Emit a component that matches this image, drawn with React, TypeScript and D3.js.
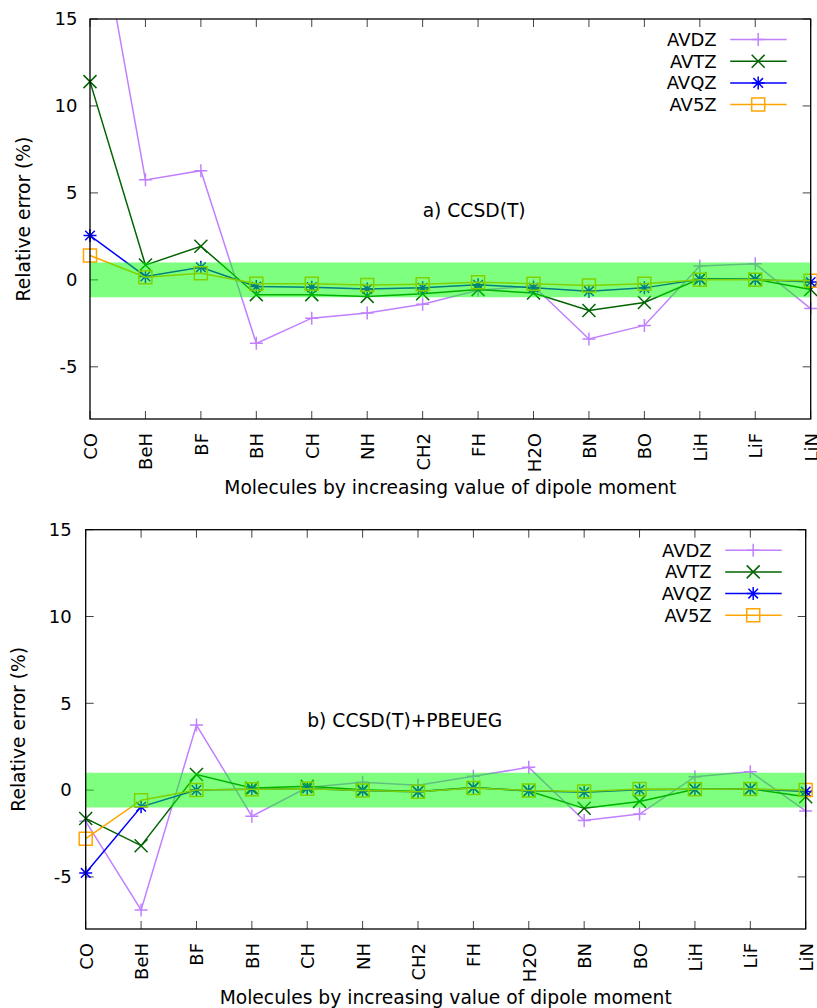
import React from "react";
import * as d3 from "d3";

const molecules = ["CO", "BeH", "BF", "BH", "CH", "NH", "CH2", "FH", "H2O", "BN", "BO", "LiH", "LiF", "LiN"];
const seriesNames = ["AVDZ", "AVTZ", "AVQZ", "AV5Z"];
const yTicks = [-5, 0, 5, 10, 15];

// Panel a) CCSD(T)
const ccsdAVDZ = [23.5, 5.75, 6.28, -3.65, -2.2, -1.9, -1.4, -0.6, -0.35, -3.4, -2.62, 0.8, 0.92, -1.65];
const ccsdAVTZ = [11.4, 0.85, 1.93, -0.85, -0.85, -0.95, -0.8, -0.56, -0.75, -1.76, -1.3, 0.06, 0.03, -0.55];
const ccsdAVQZ = [2.55, 0.2, 0.72, -0.38, -0.42, -0.52, -0.46, -0.28, -0.45, -0.65, -0.46, 0.03, 0.03, -0.12];
const ccsdAV5Z = [1.4, 0.15, 0.38, -0.22, -0.23, -0.29, -0.25, -0.14, -0.22, -0.32, -0.22, 0.0, 0.0, -0.05];

// Panel b) CCSD(T)+PBEUEG
const pbeAVDZ = [-1.8, -6.9, 3.75, -1.5, 0.15, 0.45, 0.28, 0.8, 1.31, -1.75, -1.38, 0.77, 1.06, -1.2];
const pbeAVTZ = [-1.63, -3.2, 0.9, 0.12, 0.22, 0.02, -0.08, 0.15, -0.05, -1.05, -0.65, 0.05, 0.08, -0.38];
const pbeAVQZ = [-4.77, -0.96, 0.0, 0.05, 0.1, -0.04, -0.1, 0.14, -0.04, -0.12, 0.02, 0.05, 0.06, -0.08];
const pbeAV5Z = [-2.8, -0.58, 0.0, 0.05, 0.08, -0.02, -0.1, 0.12, -0.02, -0.08, 0.06, 0.05, 0.06, 0.0];

const colors = ["#c080ff", "#006400", "#0000ff", "#ffa500"];
const markers = ["plus", "cross", "star", "square"];

const FONT = "'DejaVu Sans', sans-serif";
const FS = 18;
const FS_LABEL = 18.7;

function Marker({ kind, x, y, color }: { kind: string; x: number; y: number; color: string }) {
  const s = 6.5;
  let d = "";
  if (kind === "plus") d = `M${-s},0H${s}M0,${-s}V${s}`;
  else if (kind === "cross") d = `M${-s},${-s}L${s},${s}M${-s},${s}L${s},${-s}`;
  else if (kind === "star") d = `M${-s},0H${s}M0,${-s}V${s}M-4.8,-4.8L4.8,4.8M-4.8,4.8L4.8,-4.8`;
  else d = `M-6.5,-6.5H6.5V6.5H-6.5Z`;
  return <path d={d} transform={`translate(${x},${y})`} fill="none" stroke={color} strokeWidth={1.5} />;
}

function Panel({ id, left, right, top, bottom, data, label, yLabelX, tickGap }: any) {
  const x = d3.scaleLinear().domain([0, molecules.length - 1]).range([left, right]);
  const y = d3.scaleLinear().domain([-8, 15]).range([bottom, top]);
  const line = d3.line<number>().x((_, i) => x(i)).y((v) => y(v));
  const clipId = `clip-${id}`;
  return (
    <g>
      <defs>
        <clipPath id={clipId}>
          <rect x={left - 12} y={top} width={right - left + 24} height={bottom - top} />
        </clipPath>
      </defs>
      {molecules.map((m, i) => (
        <g key={m}>
          <line x1={x(i)} x2={x(i)} y1={bottom} y2={bottom - 8} stroke="#444" strokeWidth={1} />
          <line x1={x(i)} x2={x(i)} y1={top} y2={top + 8} stroke="#444" strokeWidth={1} />
          <text
            transform={`translate(${x(i) + 7},${bottom + 14}) rotate(-90)`}
            textAnchor="end"
            fontFamily={FONT}
            fontSize={FS}
            fill="#000"
          >
            {m}
          </text>
        </g>
      ))}
      {yTicks.map((t) => (
        <g key={t}>
          <line x1={left} x2={left + 8} y1={y(t)} y2={y(t)} stroke="#444" strokeWidth={1} />
          <line x1={right} x2={right - 8} y1={y(t)} y2={y(t)} stroke="#444" strokeWidth={1} />
          <text x={left - tickGap} y={y(t)} dy="0.35em" textAnchor="end" fontFamily={FONT} fontSize={FS} fill="#000">
            {t}
          </text>
        </g>
      ))}
      <g clipPath={`url(#${clipId})`}>
        {data.map((vals: number[], si: number) => (
          <g key={si}>
            <path d={line(vals) || ""} fill="none" stroke={colors[si]} strokeWidth={1.5} />
            {vals.map((v, i) =>
              v >= -8 && v <= 15 ? <Marker key={i} kind={markers[si]} x={x(i)} y={y(v)} color={colors[si]} /> : null
            )}
          </g>
        ))}
      </g>
      <rect x={left} y={y(1)} width={right - left} height={y(-1) - y(1)} fill="#00ff00" fillOpacity={0.5} />
      <rect x={left} y={top} width={right - left} height={bottom - top} fill="none" stroke="#000" strokeWidth={1.3} />
      {seriesNames.map((n, si) => {
        const ly = top + 20.5 + si * 21.7;
        return (
          <g key={n}>
            <text x={right - 94} y={ly} dy="0.35em" textAnchor="end" fontFamily={FONT} fontSize={FS} fill="#000">
              {n}
            </text>
            <line x1={right - 80.5} x2={right - 24} y1={ly} y2={ly} stroke={colors[si]} strokeWidth={1.5} />
            <Marker kind={markers[si]} x={right - 52.5} y={ly} color={colors[si]} />
          </g>
        );
      })}
      <text x={x(label.x)} y={y(label.y)} dy="0.35em" fontFamily={FONT} fontSize={FS_LABEL} fill="#000">
        {label.text}
      </text>
      <text
        transform={`translate(${yLabelX},${(top + bottom) / 2}) rotate(-90)`}
        textAnchor="middle"
        dy="0.35em"
        fontFamily={FONT}
        fontSize={FS_LABEL}
        fill="#000"
      >
        Relative error (%)
      </text>
      <text x={(left + right) / 2} y={bottom + 75} textAnchor="middle" fontFamily={FONT} fontSize={FS_LABEL} fill="#000">
        Molecules by increasing value of dipole moment
      </text>
    </g>
  );
}

export default function App() {
  return (
    <svg
      width={817}
      height={1008}
      style={{ position: "absolute", left: 0, top: 0, background: "#fff" }}
      xmlns="http://www.w3.org/2000/svg"
    >
      <rect x={0} y={0} width={817} height={1008} fill="#fff" />
      <Panel
        id="a"
        left={90}
        right={810.7}
        top={19}
        bottom={419}
        data={[ccsdAVDZ, ccsdAVTZ, ccsdAVQZ, ccsdAV5Z]}
        label={{ x: 6, y: 4, text: "a) CCSD(T)" }}
        yLabelX={23}
        tickGap={12.5}
      />
      <Panel
        id="b"
        left={85.7}
        right={805.7}
        top={529.7}
        bottom={929}
        data={[pbeAVDZ, pbeAVTZ, pbeAVQZ, pbeAV5Z]}
        label={{ x: 4, y: 4, text: "b) CCSD(T)+PBEUEG" }}
        yLabelX={18}
        tickGap={14}
      />
    </svg>
  );
}
